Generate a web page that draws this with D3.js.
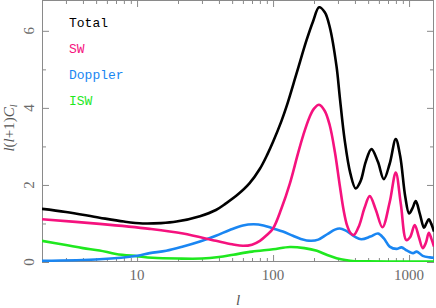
<!DOCTYPE html>
<html>
<head>
<meta charset="utf-8">
<script src="https://cdn.jsdelivr.net/npm/d3@7"></script>
<style>
body { margin: 0; background: #fff; }
</style>
</head>
<body>
<div id="chart"></div>
<script>
// multipole values and l(l+1)C_l contributions
const ellTotal = [2, 3, 5.3, 8, 11, 15, 19.5, 29, 38, 45, 55, 67, 80, 91, 100, 115, 126, 149, 176, 197, 218, 240, 261, 293, 309, 336, 370, 405, 440, 480, 529, 590, 652, 720, 798, 860, 937, 1000, 1060, 1120, 1200, 1288, 1340, 1397, 1460, 1525];
const total = [1.38, 1.30, 1.15, 1.05, 1.0, 1.01, 1.05, 1.19, 1.35, 1.52, 1.75, 2.04, 2.42, 2.8, 3.12, 3.65, 4.05, 4.9, 5.75, 6.25, 6.61, 6.48, 6.1, 5.07, 4.3, 3.17, 2.3, 1.91, 2.1, 2.6, 2.93, 2.6, 2.15, 2.55, 3.19, 2.75, 1.7, 1.26, 1.4, 1.58, 1.25, 0.89, 1.0, 1.11, 0.98, 0.79];

const ellSW = [2, 5.3, 12.4, 21.8, 38, 50, 60, 70, 80, 90, 100, 115, 133, 152, 167, 185, 200, 218, 240, 261, 285, 309, 330, 350, 370, 392, 430, 470, 514, 570, 637, 720, 798, 870, 955, 1020, 1100, 1180, 1260, 1330, 1397, 1460, 1525];
const sw = [1.11, 0.99, 0.86, 0.74, 0.55, 0.46, 0.42, 0.45, 0.55, 0.70, 0.87, 1.38, 2.04, 2.8, 3.3, 3.75, 3.98, 4.08, 3.92, 3.55, 2.85, 2.0, 1.35, 0.95, 0.76, 0.70, 0.95, 1.4, 1.71, 1.35, 0.90, 1.55, 2.32, 1.5, 0.57, 0.65, 0.96, 0.65, 0.36, 0.5, 0.76, 0.6, 0.40];

const ellDoppler = [2, 5.3, 10, 12.4, 16.4, 21.8, 29, 38, 48, 60, 72, 85, 100, 118, 140, 160, 190, 215, 250, 285, 309, 340, 398, 445, 520, 591, 650, 720, 808, 880, 950, 1010, 1070, 1140, 1260, 1420, 1525];
const doppler = [0.03, 0.07, 0.16, 0.23, 0.29, 0.40, 0.53, 0.68, 0.83, 0.95, 0.98, 0.95, 0.87, 0.79, 0.68, 0.60, 0.55, 0.58, 0.72, 0.84, 0.87, 0.82, 0.66, 0.59, 0.66, 0.74, 0.62, 0.40, 0.34, 0.38, 0.31, 0.26, 0.23, 0.27, 0.16, 0.12, 0.11];

const ellISW = [2, 3, 4, 5.3, 7, 10, 13, 20, 30, 40, 51, 70, 100, 133, 170, 210, 250, 293, 340, 400, 500, 700, 1525];
const isw = [0.55, 0.44, 0.36, 0.30, 0.21, 0.15, 0.11, 0.09, 0.09, 0.13, 0.19, 0.27, 0.33, 0.39, 0.36, 0.29, 0.18, 0.10, 0.05, 0.02, 0.015, 0.01, 0.01];

const legendNames = ['Total', 'SW', 'Doppler', 'ISW'];

const xMajor = [10, 100, 1000];
const xMinor = [3, 4, 5, 6, 7, 8, 9, 20, 30, 40, 50, 60, 70, 80, 90, 200, 300, 400, 500, 600, 700, 800, 900];
const yMajor = [0, 2, 4, 6];
const yMinor = [1, 3, 5];

const W = 436, H = 308;
const plotLeft = 42, plotRight = 434, plotTop = 0, plotBottom = 262;
const axisGray = '#8a8a8a';
const colors = {
    total: '#000000',
    sw: '#f5127e',
    doppler: '#1a86f2',
    isw: '#1fe81f'
};

const svg = d3.select('#chart').append('svg')
    .attr('width', W)
    .attr('height', H);

const x = d3.scaleLog().domain([2, 1525]).range([plotLeft, plotRight]);
const y = d3.scaleLinear().domain([0, 6.8]).range([plotBottom, plotTop]);

svg.append('clipPath').attr('id', 'plot-clip')
    .append('rect')
    .attr('x', plotLeft).attr('y', plotTop)
    .attr('width', plotRight - plotLeft).attr('height', plotBottom - plotTop);

function styleAxis(g) {
    g.select('.domain').remove();
    g.selectAll('.tick line').attr('stroke', axisGray);
}

// ticks on all four sides, pointing inwards
svg.append('g').attr('transform', `translate(0,${plotBottom})`)
    .call(d3.axisBottom(x).tickValues(xMajor).tickSize(-7).tickFormat(''))
    .call(styleAxis);
svg.append('g').attr('transform', `translate(0,${plotBottom})`)
    .call(d3.axisBottom(x).tickValues(xMinor).tickSize(-4).tickFormat(''))
    .call(styleAxis);
svg.append('g').attr('transform', `translate(0,${plotTop})`)
    .call(d3.axisTop(x).tickValues(xMajor).tickSize(-7).tickFormat(''))
    .call(styleAxis);
svg.append('g').attr('transform', `translate(0,${plotTop})`)
    .call(d3.axisTop(x).tickValues(xMinor).tickSize(-4).tickFormat(''))
    .call(styleAxis);
svg.append('g').attr('transform', `translate(${plotLeft},0)`)
    .call(d3.axisLeft(y).tickValues(yMajor).tickSize(-7).tickFormat(''))
    .call(styleAxis);
svg.append('g').attr('transform', `translate(${plotLeft},0)`)
    .call(d3.axisLeft(y).tickValues(yMinor).tickSize(-4).tickFormat(''))
    .call(styleAxis);
svg.append('g').attr('transform', `translate(${plotRight},0)`)
    .call(d3.axisRight(y).tickValues(yMajor).tickSize(-7).tickFormat(''))
    .call(styleAxis);
svg.append('g').attr('transform', `translate(${plotRight},0)`)
    .call(d3.axisRight(y).tickValues(yMinor).tickSize(-4).tickFormat(''))
    .call(styleAxis);

svg.append('rect')
    .attr('x', plotLeft + 0.5).attr('y', plotTop + 0.5)
    .attr('width', plotRight - plotLeft - 1).attr('height', plotBottom - plotTop - 1)
    .attr('fill', 'none')
    .attr('stroke', axisGray);

// tick labels
svg.selectAll('.xlab').data(xMajor).enter().append('text')
    .attr('class', 'xlab')
    .attr('x', d => x(d))
    .attr('y', 280)
    .attr('text-anchor', 'middle')
    .style('font-family', 'Liberation Serif, serif')
    .style('font-size', '15px')
    .style('fill', '#6a6a6a')
    .text(d => d);

svg.selectAll('.ylab').data(yMajor).enter().append('text')
    .attr('class', 'ylab')
    .attr('transform', d => `translate(34,${y(d)}) rotate(-90)`)
    .attr('text-anchor', 'middle')
    .style('font-family', 'Liberation Serif, serif')
    .style('font-size', '15px')
    .style('fill', '#6a6a6a')
    .text(d => d);

// axis titles
svg.append('text')
    .attr('x', 238)
    .attr('y', 305)
    .attr('text-anchor', 'middle')
    .style('font-family', 'Liberation Serif, serif')
    .style('font-style', 'italic')
    .style('font-size', '15px')
    .style('fill', '#555')
    .text('l');

const yTitle = svg.append('text')
    .attr('transform', 'translate(14,128) rotate(-90)')
    .attr('text-anchor', 'middle')
    .style('font-family', 'Liberation Serif, serif')
    .style('font-size', '15px')
    .style('fill', '#555');
yTitle.append('tspan').style('font-style', 'italic').text('l');
yTitle.append('tspan').text('(');
yTitle.append('tspan').style('font-style', 'italic').text('l');
yTitle.append('tspan').text('+1)');
yTitle.append('tspan').style('font-style', 'italic').text('C');
yTitle.append('tspan').style('font-style', 'italic').style('font-size', '10px')
    .attr('dy', 3).text('l');

// curves
const line = d3.line()
    .x(d => x(d[0]))
    .y(d => y(d[1]))
    .curve(d3.curveCatmullRom.alpha(0.5));

const series = [
    { ell: ellISW, val: isw, color: colors.isw },
    { ell: ellDoppler, val: doppler, color: colors.doppler },
    { ell: ellSW, val: sw, color: colors.sw },
    { ell: ellTotal, val: total, color: colors.total }
];

const plot = svg.append('g').attr('clip-path', 'url(#plot-clip)');
series.forEach(s => {
    plot.append('path')
        .datum(d3.zip(s.ell, s.val))
        .attr('d', line)
        .attr('fill', 'none')
        .attr('stroke', s.color)
        .attr('stroke-width', 2.6)
        .attr('stroke-linejoin', 'round');
});

// legend
const legendColors = [colors.total, colors.sw, colors.doppler, colors.isw];
svg.selectAll('.leg').data(legendNames).enter().append('text')
    .attr('class', 'leg')
    .attr('x', 69)
    .attr('y', (d, i) => 27 + i * 26)
    .style('font-family', 'Liberation Mono, monospace')
    .style('font-size', '13px')
    .style('fill', (d, i) => legendColors[i])
    .text(d => d);
</script>
</body>
</html>
